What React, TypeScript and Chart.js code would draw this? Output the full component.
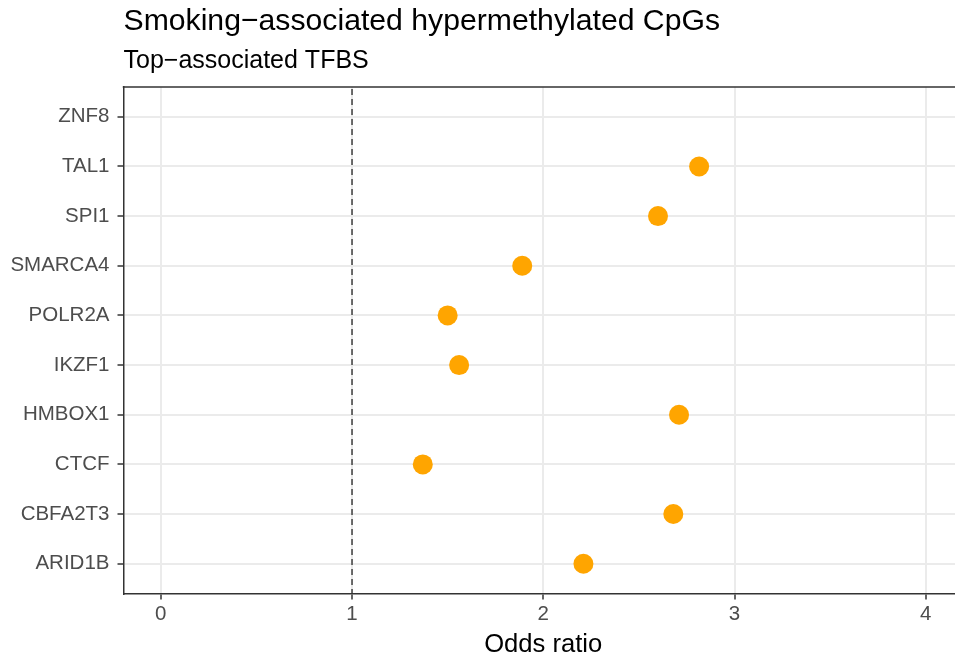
import React, { useEffect, useRef } from "react";
import { Chart, registerables } from "chart.js";

Chart.register(...registerables);

// Transcription factors, bottom to top on the y axis
const tfLabels: string[] = [
  "ARID1B",
  "CBFA2T3",
  "CTCF",
  "HMBOX1",
  "IKZF1",
  "POLR2A",
  "SMARCA4",
  "SPI1",
  "TAL1",
  "ZNF8",
];

// Odds ratio per factor (ZNF8 has no estimate shown)
const oddsRatios: (number | null)[] = [
  2.21, 2.68, 1.37, 2.71, 1.56, 1.5, 1.89, 2.6, 2.815, null,
];

const xTickValues: number[] = [0, 1, 2, 3, 4];
const referenceOdds = 1;

const titleText = "Smoking\u2212associated hypermethylated CpGs";
const subtitleText = "Top\u2212associated TFBS";
const xAxisTitle = "Odds ratio";

const FONT = "'Liberation Sans', Arial, Helvetica, sans-serif";
const DARK = "#333333";
const GRID = "#EBEBEB";
const TICK_TEXT = "#4D4D4D";
const POINT = "#FFA500";

// Draws the panel's top edge, the dashed reference line, the headings
// and the x-axis title (centred on the full panel, which runs past the right edge)
const panelDecor = {
  id: "panelDecor",
  beforeDatasetsDraw(chart: any) {
    const { ctx, chartArea, scales } = chart;
    const x = scales.x.getPixelForValue(referenceOdds);
    ctx.save();
    ctx.strokeStyle = "#333333";
    ctx.lineWidth = 1.4;
    ctx.setLineDash([6, 4]);
    ctx.beginPath();
    ctx.moveTo(x, chartArea.top + 2);
    ctx.lineTo(x, chartArea.bottom);
    ctx.stroke();
    ctx.restore();
  },
  afterDraw(chart: any) {
    const { ctx, chartArea } = chart;
    ctx.save();
    ctx.strokeStyle = DARK;
    ctx.lineWidth = 1.5;
    ctx.beginPath();
    ctx.moveTo(chartArea.left - 0.75, chartArea.top);
    ctx.lineTo(chartArea.right, chartArea.top);
    ctx.stroke();

    ctx.fillStyle = "#000000";
    ctx.textAlign = "left";
    ctx.textBaseline = "alphabetic";
    ctx.font = `30.2px ${FONT}`;
    ctx.fillText(titleText, chartArea.left, 29.5);
    ctx.font = `25px ${FONT}`;
    ctx.fillText(subtitleText, chartArea.left, 68);

    ctx.textAlign = "center";
    ctx.font = `25.6px ${FONT}`;
    ctx.fillText(xAxisTitle, (chartArea.left + chartArea.right + 8) / 2, 651.5);
    ctx.restore();
  },
};

export default function App() {
  const canvasRef = useRef<HTMLCanvasElement | null>(null);

  useEffect(() => {
    if (!canvasRef.current) return;
    const points = oddsRatios
      .map((v, i) => (v === null ? null : { x: v, y: i }))
      .filter((p) => p !== null) as { x: number; y: number }[];

    const chart = new Chart(canvasRef.current, {
      type: "scatter",
      data: {
        datasets: [
          {
            data: points,
            backgroundColor: POINT,
            borderColor: POINT,
            borderWidth: 0,
            pointRadius: 10,
            pointHoverRadius: 10,
          },
        ],
      },
      options: {
        animation: false,
        responsive: false,
        events: [],
        layout: {
          autoPadding: false,
          padding: { top: 87, left: 0, right: 0, bottom: 0 },
        },
        plugins: {
          legend: { display: false },
          tooltip: { enabled: false },
          title: { display: false },
        },
        scales: {
          x: {
            type: "linear",
            min: -0.195,
            max: 4.153,
            afterBuildTicks: (s: any) => {
              s.ticks = xTickValues.map((v) => ({ value: v }));
            },
            afterFit: (s: any) => {
              s.height = 63.5;
              s.paddingLeft = 0;
              s.paddingRight = 0;
            },
            grid: {
              color: GRID,
              lineWidth: 2,
              drawTicks: true,
              tickLength: 6,
              tickWidth: 1.5,
              tickColor: DARK,
            },
            border: { display: true, color: DARK, width: 1.5 },
            ticks: {
              color: TICK_TEXT,
              font: { family: FONT, size: 20.5 },
              padding: 3,
              maxRotation: 0,
              autoSkip: false,
              callback: (v: any) => String(v),
            },
            title: { display: false },
          },
          y: {
            type: "linear",
            min: -0.6,
            max: 9.6,
            afterBuildTicks: (s: any) => {
              s.ticks = tfLabels.map((_, i) => ({ value: i }));
            },
            afterFit: (s: any) => {
              s.width = 123.5;
              s.paddingTop = 0;
              s.paddingBottom = 0;
            },
            grid: {
              color: GRID,
              lineWidth: 2,
              drawTicks: true,
              tickLength: 6,
              tickWidth: 1.5,
              tickColor: DARK,
            },
            border: { display: true, color: DARK, width: 1.5 },
            ticks: {
              color: TICK_TEXT,
              font: { family: FONT, size: 20.5 },
              padding: 8,
              autoSkip: false,
              callback: (v: any) => tfLabels[v as number] ?? "",
            },
          },
        },
      },
      plugins: [panelDecor],
    });

    return () => chart.destroy();
  }, []);

  return (
    <div
      style={{
        position: "absolute",
        left: 0,
        top: 0,
        width: 955,
        height: 657,
        background: "#ffffff",
      }}
    >
      <canvas
        ref={canvasRef}
        width={955}
        height={657}
        style={{ display: "block", width: 955, height: 657 }}
      />
    </div>
  );
}
